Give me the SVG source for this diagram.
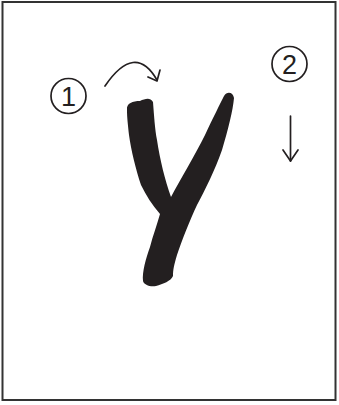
<svg xmlns="http://www.w3.org/2000/svg" width="339" height="405" viewBox="0 0 339 405">
<style>
.ln{fill:none;stroke:#231f20;stroke-width:1.7;stroke-linecap:round;stroke-linejoin:round}
.num{font-family:"Liberation Sans",Arial,sans-serif;font-size:27px;fill:#231f20;text-anchor:middle}
</style>
<rect x="2.5" y="2" width="333" height="398" fill="#fff" stroke="#333" stroke-width="2"/>
<g id="glyph">
<path fill="#231f20" d="M127,110 C126,103 133,101 140,101 C145,99 150,97 153,102 C154,115 155,130 157,140 C160,160 165,180 171,197 C180,180 195,155 205,135 C213,118 220,104 224,96 C227,91 233,92 234,98 C233,110 228,130 222,150 C215,170 205,190 197,205 C190,220 182,240 177,255 C174,265 173,270 173,276 C171,281 163,284 156,286 C150,287 144,285 143,281 C142,272 146,258 150,247 C153,235 157,225 160,214 C152,205 146,195 141,185 C136,170 131,150 129,135 C128,125 127,118 127,110 Z"/>
</g>
<g id="step1">
<circle cx="68.5" cy="96" r="17.5" class="ln"/>
<text x="68.5" y="105.5" class="num">1</text>
</g>
<g id="step2">
<circle cx="289.5" cy="64" r="17.5" class="ln"/>
<text x="289.5" y="73.5" class="num">2</text>
</g>
<g id="connectors">
<path class="ln" d="M105,86 Q135,42 157,80"/>
<path class="ln" d="M148,77 L157,81 L160,70"/>
<path class="ln" d="M290.5,116 L290.5,161"/>
<path class="ln" d="M283,150 L290.5,161 L298,150"/>
</g>
</svg>
